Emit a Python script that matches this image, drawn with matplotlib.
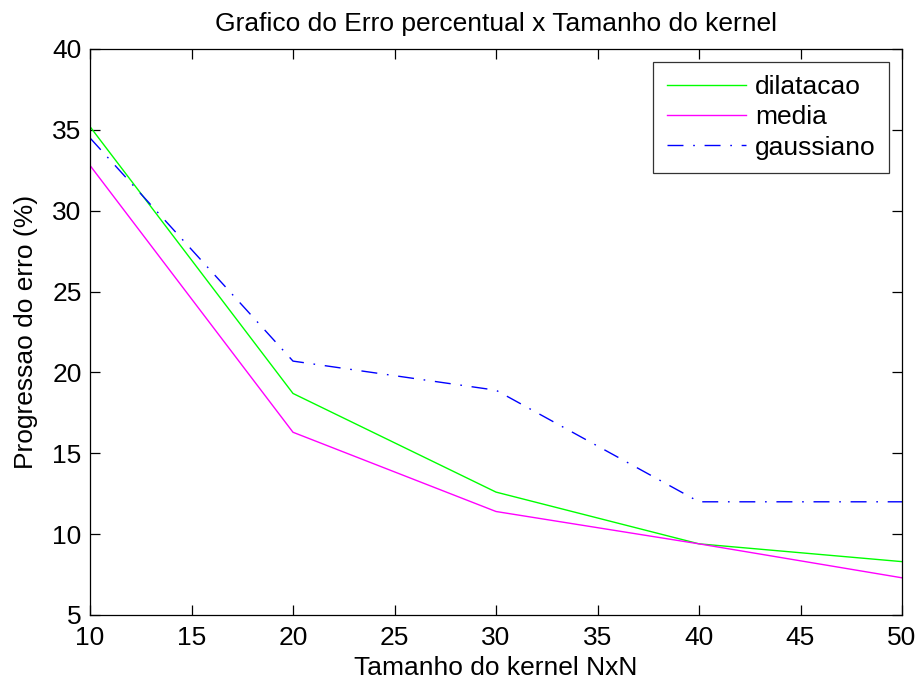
import matplotlib
matplotlib.use("Agg")
import matplotlib.pyplot as plt

plt.rcParams['font.family'] = ['Liberation Sans', 'DejaVu Sans']

kernel = [10, 20, 30, 40, 50]
dilatacao = [35.2, 18.7, 12.6, 9.4, 8.3]
media = [32.8, 16.3, 11.4, 9.4, 7.3]
gaussiano = [34.5, 20.7, 18.9, 12.0, 12.0]

fig = plt.figure(figsize=(9.18, 6.84), dpi=100)
ax = fig.add_axes([90/918, 69/684, 812/918, 566/684])

ax.plot(kernel, dilatacao, color=(0, 1, 0), lw=1.0, label='dilatacao')
ax.plot(kernel, media, color=(1, 0, 1), lw=1.0, label='media')
ax.plot(kernel, gaussiano, color=(0, 0, 1), lw=1.0, linestyle=(0, (11.5, 7, 1.2, 7)), label='gaussiano')

ax.set_xlim(10, 50)
ax.set_ylim(5, 40)
ax.set_xticks(range(10, 51, 5))
ax.set_yticks(range(5, 41, 5))
ax.tick_params(direction='in', top=True, right=True, labelsize=19, length=7, width=0.9)
ax.tick_params(axis='x', pad=8)
ax.tick_params(axis='y', pad=6)
for s in ax.spines.values():
    s.set_linewidth(0.9)

ax.set_title('Grafico do Erro percentual x Tamanho do kernel', fontsize=19, pad=13)
ax.set_xlabel('Tamanho do kernel NxN', fontsize=19, labelpad=4)
ax.set_ylabel('Progressao do erro (%)', fontsize=19, labelpad=10)

leg = ax.legend(loc='upper right', fontsize=19, frameon=True, fancybox=False,
                edgecolor='black', handlelength=3.0, borderaxespad=0.5,
                labelspacing=0.23, handletextpad=0.35, borderpad=0.5)
leg.get_frame().set_linewidth(0.9)

fig.savefig('out.png', dpi=100)
